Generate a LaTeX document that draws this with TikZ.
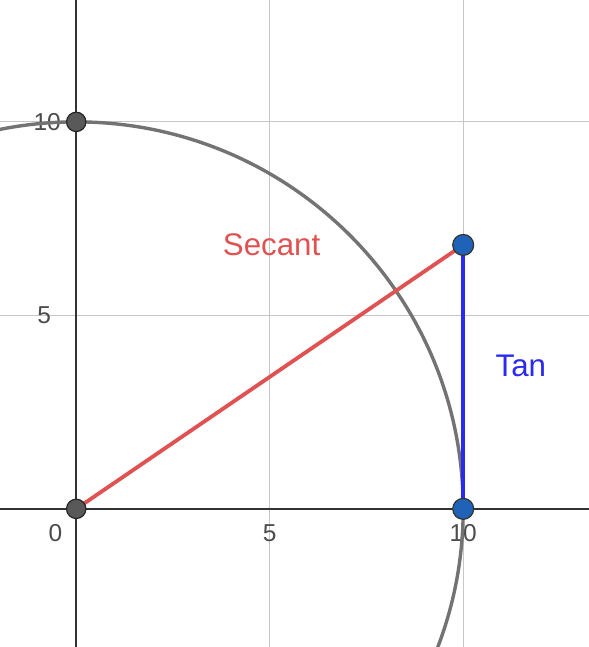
\documentclass[tikz,border=0pt]{standalone}
\usepackage{fontspec}
\setmainfont{Liberation Sans}
\begin{document}
\begin{tikzpicture}[x=1cm,y=1cm,
  gridline/.style={draw=black!22, line width=0.75pt},
  axisline/.style={draw=black!80, line width=1.5pt},
  ticklbl/.style={text=black!70, font=\fontsize{18}{20}\selectfont, inner sep=1pt},
  graydot/.style={circle, fill=black!65, draw=black!85, line width=0.9pt, minimum size=0.5cm, inner sep=0pt},
  bluedot/.style={circle, fill=blue!55!cyan!70!black, draw=black!80, line width=0.9pt, minimum size=0.54cm, inner sep=0pt},
  lbl/.style={font=\fontsize{23}{26}\selectfont, inner sep=0pt}]
\definecolor{dred}{HTML}{E05252}
\definecolor{dblue}{HTML}{1F62B8}
\definecolor{tanblue}{HTML}{2A2AF0}
\useasboundingbox (-1.97,-3.57) rectangle (13.25,13.15);
\fill[white] (-1.97,-3.57) rectangle (13.25,13.15);
\begin{scope}
\clip (-1.97,-3.57) rectangle (13.25,13.15);
% grid
\foreach \v in {5,10} {
  \draw[gridline] (\v,-3.57) -- (\v,13.15);
  \draw[gridline] (-1.97,\v) -- (13.25,\v);
}
% axes
\draw[axisline] (0,-3.57) -- (0,13.15);
\draw[axisline] (-1.97,0) -- (13.25,0);
% tick labels
\node[ticklbl] (l0) at (-0.54,-0.62) {0};
\node[ticklbl] (lx5) at (5,-0.62) {5};
\node[ticklbl] (lx10) at (10,-0.62) {10};
\node[ticklbl] (ly5) at (-0.83,5) {5};
\node[ticklbl] (ly10) at (-0.75,10) {10};
% circle
\draw[draw=black!55, line width=2.5pt] (0,0) circle (10);
\end{scope}
% points
\coordinate (O) at (0,0);
\coordinate (T) at (10,0);
\coordinate (P) at (10,6.82);
\draw[dred, line width=2.8pt] (O) -- (P);
\draw[tanblue, line width=2.8pt] (T) -- (P);
\node[graydot] (o) at (O) {};
\node[graydot] (top) at (0,10) {};
\node[bluedot, fill=dblue] (t) at (T) {};
\node[bluedot, fill=dblue] (p) at (P) {};
\node[lbl, text=dred] (sec) at (5.05,6.82) {Secant};
\node[lbl, text=tanblue] (tan) at (11.49,3.70) {Tan};
\end{tikzpicture}
\end{document}
